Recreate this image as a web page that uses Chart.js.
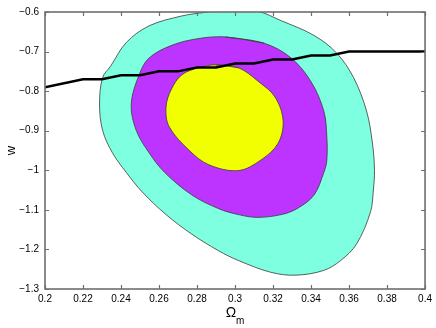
<!DOCTYPE html>
<html>
<head>
<meta charset="utf-8">
<script src="https://cdn.jsdelivr.net/npm/chart.js@4.4.0/dist/chart.umd.min.js"></script>
<style>
html,body{margin:0;padding:0;background:#fff;}
canvas{display:block;}
</style>
</head>
<body>
<canvas id="c" width="436" height="328"></canvas>
<script>
// ---- data (Omega_m, w) ----
const xTicks = [0.2,0.22,0.24,0.26,0.28,0.3,0.32,0.34,0.36,0.38,0.4];
const yTicks = [-0.6,-0.7,-0.8,-0.9,-1,-1.1,-1.2,-1.3];

// outer (cyan) contour
const outerOm = [0.298,0.312,0.3243,0.3415,0.3535,0.3624,0.3692,0.3723,0.3734,0.3728,0.3713,0.364,0.3556,0.3467,0.3321,0.319,0.3018,0.2914,0.2773,0.2637,0.2512,0.2428,0.2355,0.2303,0.2287,0.2303,0.2345,0.2428,0.2548,0.272,0.284];
const outerW  = [-0.592,-0.598,-0.622,-0.659,-0.704,-0.766,-0.85,-0.931,-1.0,-1.05,-1.105,-1.186,-1.228,-1.253,-1.265,-1.258,-1.228,-1.2035,-1.1615,-1.112,-1.055,-1.0056,-0.956,-0.899,-0.8325,-0.766,-0.737,-0.677,-0.635,-0.61,-0.601];

// middle (purple) contour
const midOm = [0.295,0.3154,0.3295,0.34,0.3467,0.3483,0.3483,0.3467,0.3415,0.3326,0.3243,0.3117,0.3018,0.2914,0.2773,0.263,0.2548,0.248,0.2454,0.2496,0.2548,0.2668,0.281];
const midW  = [-0.663,-0.679,-0.716,-0.776,-0.85,-0.914,-0.975,-1.006,-1.063,-1.097,-1.112,-1.119,-1.112,-1.097,-1.0625,-1.0056,-0.956,-0.899,-0.8325,-0.758,-0.716,-0.684,-0.667];

// inner (yellow) contour
const innerOm = [0.2898,0.3018,0.3123,0.3211,0.3253,0.3227,0.3138,0.3018,0.2862,0.2757,0.2653,0.2637,0.2665,0.2721,0.2809];
const innerW  = [-0.7336,-0.741,-0.7756,-0.8152,-0.8745,-0.9314,-0.9735,-1.0007,-0.986,-0.9488,-0.8894,-0.84,-0.795,-0.7583,-0.741];

// black curve
const lineOm = [0.2,0.22,0.23,0.24,0.25,0.26,0.27,0.28,0.29,0.30,0.31,0.32,0.33,0.34,0.35,0.36,0.4];
const lineW  = [-0.79,-0.77,-0.77,-0.76,-0.76,-0.75,-0.75,-0.74,-0.74,-0.73,-0.73,-0.72,-0.72,-0.71,-0.71,-0.70,-0.70];

function pts(xs, ys){ return xs.map((x,i)=>({x:x,y:ys[i]})); }
function closed(xs, ys){ const p = pts(xs, ys); return p.concat([p[0], p[1]]); }

function fmt(v){ const s = String(Math.round(v*1000)/1000); return s.replace('-', '\u2212'); }

const frame = {
  id:'frame',
  afterDraw(chart){
    const ctx = chart.ctx, a = chart.chartArea;
    const xs = chart.scales.x, ys = chart.scales.y;
    ctx.save();
    ctx.strokeStyle = '#6e6e6e';
    ctx.lineWidth = 1.6;
    ctx.strokeRect(a.left, a.top, a.right-a.left, a.bottom-a.top);
    ctx.beginPath();
    const tl = 4;
    xTicks.forEach(v=>{
      const px = Math.round(xs.getPixelForValue(v))+0.5;
      ctx.moveTo(px, a.bottom); ctx.lineTo(px, a.bottom-tl);
      ctx.moveTo(px, a.top); ctx.lineTo(px, a.top+tl);
    });
    yTicks.forEach(v=>{
      const py = Math.round(ys.getPixelForValue(v))+0.5;
      ctx.moveTo(a.left, py); ctx.lineTo(a.left+tl, py);
      ctx.moveTo(a.right, py); ctx.lineTo(a.right-tl, py);
    });
    ctx.lineWidth = 1.2;
    ctx.stroke();
    // axis titles
    ctx.fillStyle = '#000';
    ctx.textBaseline = 'alphabetic';
    const cx = (a.left + a.right)/2;
    ctx.font = '14px "Liberation Sans", Arial, sans-serif';
    const wO = ctx.measureText('\u03A9').width;
    ctx.font = '10px "Liberation Sans", Arial, sans-serif';
    const wM = ctx.measureText('m').width;
    const x0 = cx - (wO + wM)/2;
    ctx.font = '14px "Liberation Sans", Arial, sans-serif';
    ctx.textAlign = 'left';
    ctx.fillText('\u03A9', x0, 317);
    ctx.font = '10px "Liberation Sans", Arial, sans-serif';
    ctx.fillText('m', x0 + wO, 324);
    ctx.save();
    ctx.translate(15, (a.top + a.bottom)/2);
    ctx.rotate(-Math.PI/2);
    ctx.textAlign = 'center';
    ctx.font = '13px "Liberation Sans", Arial, sans-serif';
    ctx.fillText('w', 0, 0);
    ctx.restore();
    ctx.restore();
  }
};

const tickFont = {family:'"Liberation Sans", Arial, sans-serif', size:10};

new Chart(document.getElementById('c'), {
  type:'scatter',
  data:{
    datasets:[
      {data:pts(lineOm, lineW), showLine:true, borderColor:'#000', borderWidth:2.5, pointRadius:0, tension:0, fill:false, order:0},
      {data:closed(innerOm, innerW), showLine:true, borderColor:'#3a3a3a', borderWidth:0.8, backgroundColor:'#f2ff00', pointRadius:0, tension:0.35, fill:'shape', order:1},
      {data:closed(midOm, midW), showLine:true, borderColor:'#3a3a3a', borderWidth:0.8, backgroundColor:'#bd33ff', pointRadius:0, tension:0.35, fill:'shape', order:2},
      {data:closed(outerOm, outerW), showLine:true, borderColor:'#3a3a3a', borderWidth:0.8, backgroundColor:'#7dffe0', pointRadius:0, tension:0.35, fill:'shape', order:3}
    ]
  },
  options:{
    responsive:false,
    animation:false,
    events:[],
    layout:{padding:{left:0, top:6, right:8, bottom:0}},
    plugins:{legend:{display:false}, tooltip:{enabled:false}},
    scales:{
      x:{
        type:'linear', min:0.2, max:0.4,
        afterBuildTicks(s){ s.ticks = xTicks.map(v=>({value:v})); },
        afterFit(s){ s.height = 39; },
        grid:{display:false, drawTicks:false},
        border:{display:false},
        ticks:{color:'#000', font:tickFont, padding:4, maxRotation:0, autoSkip:false, callback:(v)=>fmt(v)}
      },
      y:{
        type:'linear', min:-1.3, max:-0.6,
        afterBuildTicks(s){ s.ticks = yTicks.map(v=>({value:v})); },
        afterFit(s){ s.width = 45; },
        grid:{display:false, drawTicks:false},
        border:{display:false},
        ticks:{color:'#000', font:tickFont, padding:6, autoSkip:false, callback:(v)=>fmt(v)}
      }
    }
  },
  plugins:[frame]
});
</script>
</body>
</html>
